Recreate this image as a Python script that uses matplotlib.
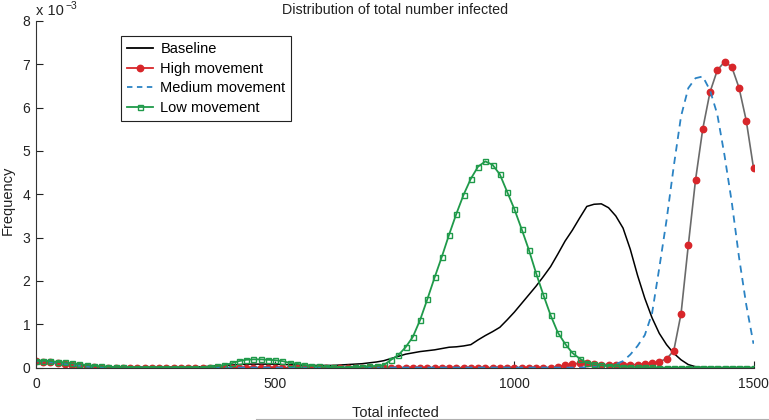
import numpy as np
import matplotlib
matplotlib.use("Agg")
from matplotlib import pyplot as plt
from matplotlib.lines import Line2D

plt.rcParams['font.family'] = ['Liberation Sans', 'DejaVu Sans']

# x grid: 100 bins of total infected from 0 to 1500
total_infected = np.linspace(0, 1500, 100)

# frequencies in units of 1e-3
baseline = [
    0.15, 0.14, 0.13, 0.11, 0.09, 0.07, 0.05, 0.04, 0.03, 0.02,
    0.02, 0.01, 0.01, 0.01, 0.01, 0.01, 0.01, 0.01, 0.01, 0.01,
    0.01, 0.01, 0.02, 0.02, 0.03, 0.04, 0.05, 0.06, 0.07, 0.08,
    0.08, 0.08, 0.08, 0.08, 0.07, 0.07, 0.06, 0.05, 0.05, 0.05,
    0.05, 0.05, 0.06, 0.07, 0.08, 0.09, 0.11, 0.13, 0.16, 0.21,
    0.26, 0.31, 0.34, 0.37, 0.39, 0.41, 0.44, 0.47, 0.48, 0.50,
    0.53, 0.64, 0.74, 0.83, 0.93, 1.10, 1.28, 1.48, 1.68, 1.88,
    2.10, 2.33, 2.62, 2.92, 3.17, 3.45, 3.72, 3.77, 3.78, 3.69,
    3.50, 3.22, 2.73, 2.13, 1.60, 1.15, 0.79, 0.53, 0.33, 0.18,
    0.07, 0.02, 0.00, 0.00, 0.00, 0.00, 0.00, 0.00, 0.00, 0.00,
]

high = [
    0.15, 0.14, 0.12, 0.10, 0.08, 0.06, 0.04, 0.02, 0.01, 0.00,
    0.00, 0.00, 0.00, 0.00, 0.00, 0.00, 0.00, 0.00, 0.00, 0.00,
    0.00, 0.00, 0.00, 0.00, 0.00, 0.00, 0.00, 0.00, 0.00, 0.00,
    0.00, 0.00, 0.00, 0.00, 0.00, 0.00, 0.00, 0.00, 0.00, 0.00,
    0.00, 0.00, 0.00, 0.00, 0.00, 0.00, 0.00, 0.00, 0.00, 0.00,
    0.00, 0.00, 0.00, 0.00, 0.00, 0.00, 0.00, 0.00, 0.00, 0.00,
    0.00, 0.00, 0.00, 0.00, 0.00, 0.00, 0.00, 0.00, 0.00, 0.00,
    0.00, 0.00, 0.02, 0.06, 0.08, 0.10, 0.10, 0.08, 0.07, 0.07,
    0.07, 0.07, 0.07, 0.07, 0.08, 0.10, 0.14, 0.20, 0.39, 1.24,
    2.82, 4.33, 5.51, 6.36, 6.86, 7.06, 6.94, 6.46, 5.70, 4.61,
]

medium = [
    0.15, 0.14, 0.12, 0.10, 0.08, 0.06, 0.04, 0.02, 0.01, 0.00,
    0.00, 0.00, 0.00, 0.00, 0.00, 0.00, 0.00, 0.00, 0.00, 0.00,
    0.00, 0.00, 0.00, 0.00, 0.00, 0.00, 0.00, 0.00, 0.00, 0.00,
    0.00, 0.00, 0.00, 0.00, 0.00, 0.00, 0.00, 0.00, 0.00, 0.00,
    0.00, 0.00, 0.00, 0.00, 0.00, 0.00, 0.00, 0.00, 0.00, 0.00,
    0.00, 0.00, 0.00, 0.00, 0.00, 0.00, 0.00, 0.00, 0.00, 0.00,
    0.00, 0.00, 0.00, 0.00, 0.00, 0.00, 0.00, 0.00, 0.00, 0.00,
    0.00, 0.00, 0.00, 0.00, 0.00, 0.00, 0.01, 0.02, 0.03, 0.05,
    0.08, 0.15, 0.30, 0.50, 0.75, 1.25, 2.30, 3.40, 4.65, 5.80,
    6.45, 6.68, 6.72, 6.40, 5.85, 4.90, 3.82, 2.55, 1.45, 0.55,
]

low = [
    0.16, 0.16, 0.15, 0.13, 0.12, 0.10, 0.08, 0.06, 0.04, 0.03,
    0.02, 0.01, 0.01, 0.00, 0.00, 0.00, 0.00, 0.00, 0.00, 0.00,
    0.00, 0.00, 0.00, 0.00, 0.01, 0.03, 0.06, 0.10, 0.15, 0.18,
    0.19, 0.19, 0.18, 0.17, 0.15, 0.11, 0.09, 0.06, 0.04, 0.03,
    0.02, 0.01, 0.00, 0.00, 0.01, 0.02, 0.03, 0.04, 0.06, 0.18,
    0.29, 0.47, 0.71, 1.10, 1.58, 2.08, 2.56, 3.07, 3.55, 3.99,
    4.36, 4.64, 4.76, 4.68, 4.46, 4.06, 3.66, 3.20, 2.72, 2.18,
    1.68, 1.21, 0.81, 0.55, 0.34, 0.21, 0.11, 0.08, 0.05, 0.04,
    0.03, 0.02, 0.02, 0.01, 0.01, 0.01, 0.00, 0.00, 0.00, 0.00,
    0.00, 0.00, 0.00, 0.00, 0.00, 0.00, 0.00, 0.00, 0.00, 0.00,
]

labels = ['Baseline', 'High movement', 'Medium movement', 'Low movement']

red = '#d8262a'
blue = '#2b83c4'
green = '#1f9a4a'

fig = plt.figure(figsize=(7.69, 4.20), dpi=100)
ax = fig.add_axes([36 / 769, 1 - 367.6 / 420, 717.5 / 769, 346.6 / 420])

ax.plot(total_infected, baseline, color='black', lw=1.1)
ax.plot(total_infected, high, color='#6a6a6a', lw=1.2, marker='o',
        markersize=4.6, markerfacecolor=red, markeredgecolor=red)
ax.plot(total_infected, medium, color=blue, lw=1.3, dashes=(4, 3))
ax.plot(total_infected, low, color=green, lw=1.3, marker='s',
        markersize=3.6, markerfacecolor='none', markeredgecolor=green,
        markeredgewidth=1.0)

ax.set_xlim(0, 1500)
ax.set_ylim(0, 8)
ax.set_xticks([0, 500, 1000, 1500])
ax.set_yticks(range(0, 9))
ax.tick_params(direction='in', length=5, width=0.8, labelsize=10, colors='#222222')
ax.tick_params(axis='x', pad=6.5)
ax.tick_params(axis='y', pad=4)
ax.spines['top'].set_visible(False)
ax.spines['right'].set_visible(False)
ax.spines['left'].set_color('#333333')
ax.spines['bottom'].set_color('#333333')

handles = [
    Line2D([], [], color='black', lw=1.3),
    Line2D([], [], color=red, lw=1.3, marker='o', markersize=4.6,
           markerfacecolor=red, markeredgecolor=red),
    Line2D([], [], color=blue, lw=1.3, dashes=(3, 2.5)),
    Line2D([], [], color=green, lw=1.3, marker='s', markersize=3.6,
           markerfacecolor='none', markeredgecolor=green),
]
leg = ax.legend(handles, labels, loc='upper left',
                bbox_to_anchor=(121 / 769, 1 - 36 / 420),
                bbox_transform=fig.transFigure, fontsize=10.5,
                fancybox=False, framealpha=1, edgecolor='#222222',
                handlelength=1.8, handletextpad=0.5, labelspacing=0.4,
                borderpad=0.4, borderaxespad=0)
leg.get_frame().set_linewidth(0.8)

fig.text(36 / 769, 1 - 15 / 420, 'x 10', fontsize=10.5,
         ha='left', va='baseline', color='#222222')
fig.text(66 / 769, 1 - 9 / 420, '\u22123', fontsize=7.5,
         ha='left', va='baseline', color='#222222')
fig.text(395 / 769, 1 - 10 / 420, 'Distribution of total number infected',
         fontsize=10.3, ha='center', va='center', color='#222222')
fig.text(8 / 769, 1 - 200 / 420, 'Frequency', fontsize=10.5,
         rotation=90, ha='center', va='center', color='#222222')
fig.text(395 / 769, 1 - 417 / 420, 'Total infected', fontsize=10.5,
         ha='center', va='baseline', color='#222222')

# faint rule along the bottom edge
fig.add_artist(Line2D([256 / 769, 1], [1 - 418.5 / 420, 1 - 418.5 / 420],
                      transform=fig.transFigure, color='#b0b0b0', lw=0.8))

fig.savefig('out.png', dpi=100)
